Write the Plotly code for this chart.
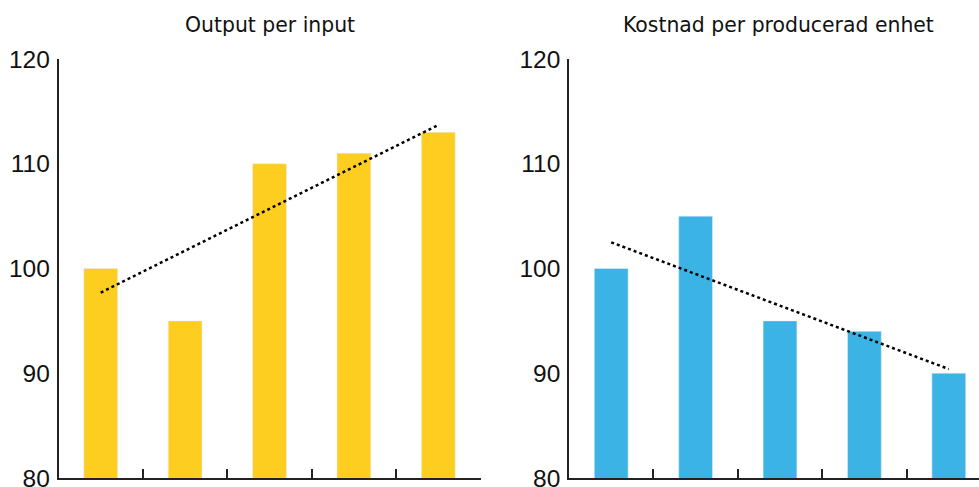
import plotly.graph_objects as go

# Five periods per panel
periods = [1, 2, 3, 4, 5]

# Output per input (index)
output_per_input = [100, 95, 110, 111, 113]
output_trend_x = [1, 5]
output_trend_y = [97.7, 113.7]

# Cost per produced unit (index)
cost_per_unit = [100, 105, 95, 94, 90]
cost_trend_x = [1, 5]
cost_trend_y = [102.5, 90.4]

y_ticks = [80, 90, 100, 110, 120]
titles = ["Output per input", "Kostnad per producerad enhet"]

W, H = 979, 487
YELLOW = "#FDCD1F"
BLUE = "#3CB3E5"
TICK_FONT = "Liberation Sans, Arial, sans-serif"
TITLE_FONT = "DejaVu Sans, sans-serif"

# pixel geometry of the two plot areas
cat_w = 84.4
left_x0 = 58.5
right_x0 = 569.0
y_top_px, y_bot_px = 59.0, 478.0

fig = go.Figure()

fig.add_trace(go.Bar(x=periods, y=output_per_input, marker_color=YELLOW,
                     width=0.4, xaxis="x", yaxis="y", showlegend=False))
fig.add_trace(go.Scatter(x=output_trend_x, y=output_trend_y, mode="lines",
                         line=dict(color="black", width=2.5, dash="3px,3px"),
                         xaxis="x", yaxis="y", showlegend=False))
fig.add_trace(go.Bar(x=periods, y=cost_per_unit, marker_color=BLUE,
                     width=0.4, xaxis="x2", yaxis="y2", showlegend=False))
fig.add_trace(go.Scatter(x=cost_trend_x, y=cost_trend_y, mode="lines",
                         line=dict(color="black", width=2.5, dash="3px,3px"),
                         xaxis="x2", yaxis="y2", showlegend=False))

y_dom = [(H - y_bot_px) / H, (H - y_top_px) / H]

def xaxis(x0_px, x1_px, rng):
    return dict(domain=[x0_px / W, x1_px / W], range=rng, automargin=False,
                showline=True, linecolor="#222", linewidth=1.5,
                showgrid=False, zeroline=False,
                tickmode="array", tickvals=[1.5, 2.5, 3.5, 4.5, 5.5],
                ticks="inside", ticklen=9, tickwidth=1.5, tickcolor="#222",
                showticklabels=False, fixedrange=True)

def yaxis(anchor):
    return dict(domain=y_dom, range=[80, 120], anchor=anchor, automargin=False,
                showline=True, linecolor="#222", linewidth=1.5,
                showgrid=False, zeroline=False,
                tickmode="array", tickvals=y_ticks, ticks="",
                ticklabelstandoff=2, ticklabeloverflow="allow",
                tickfont=dict(family=TICK_FONT, size=24.5, color="#111"),
                fixedrange=True)

left_x1 = left_x0 + 5 * cat_w
right_x1 = W
right_range_end = 0.5 + (right_x1 - right_x0) / cat_w

fig.update_layout(
    width=W, height=H,
    margin=dict(l=0, r=0, t=0, b=0),
    paper_bgcolor="white", plot_bgcolor="white",
    xaxis=dict(**xaxis(left_x0, left_x1, [0.5, 5.5]), anchor="y"),
    yaxis=yaxis("x"),
    xaxis2=dict(**xaxis(right_x0, right_x1, [0.5, right_range_end]), anchor="y2"),
    yaxis2=yaxis("x2"),
    annotations=[
        dict(text=titles[0], x=270 / W, y=1 - 25 / H, xref="paper", yref="paper",
             xanchor="center", yanchor="middle", showarrow=False,
             font=dict(family=TITLE_FONT, size=20.4, color="#111")),
        dict(text=titles[1], x=778 / W, y=1 - 25 / H, xref="paper", yref="paper",
             xanchor="center", yanchor="middle", showarrow=False,
             font=dict(family=TITLE_FONT, size=20.4, color="#111")),
    ],
)

fig.write_html("out.html")
